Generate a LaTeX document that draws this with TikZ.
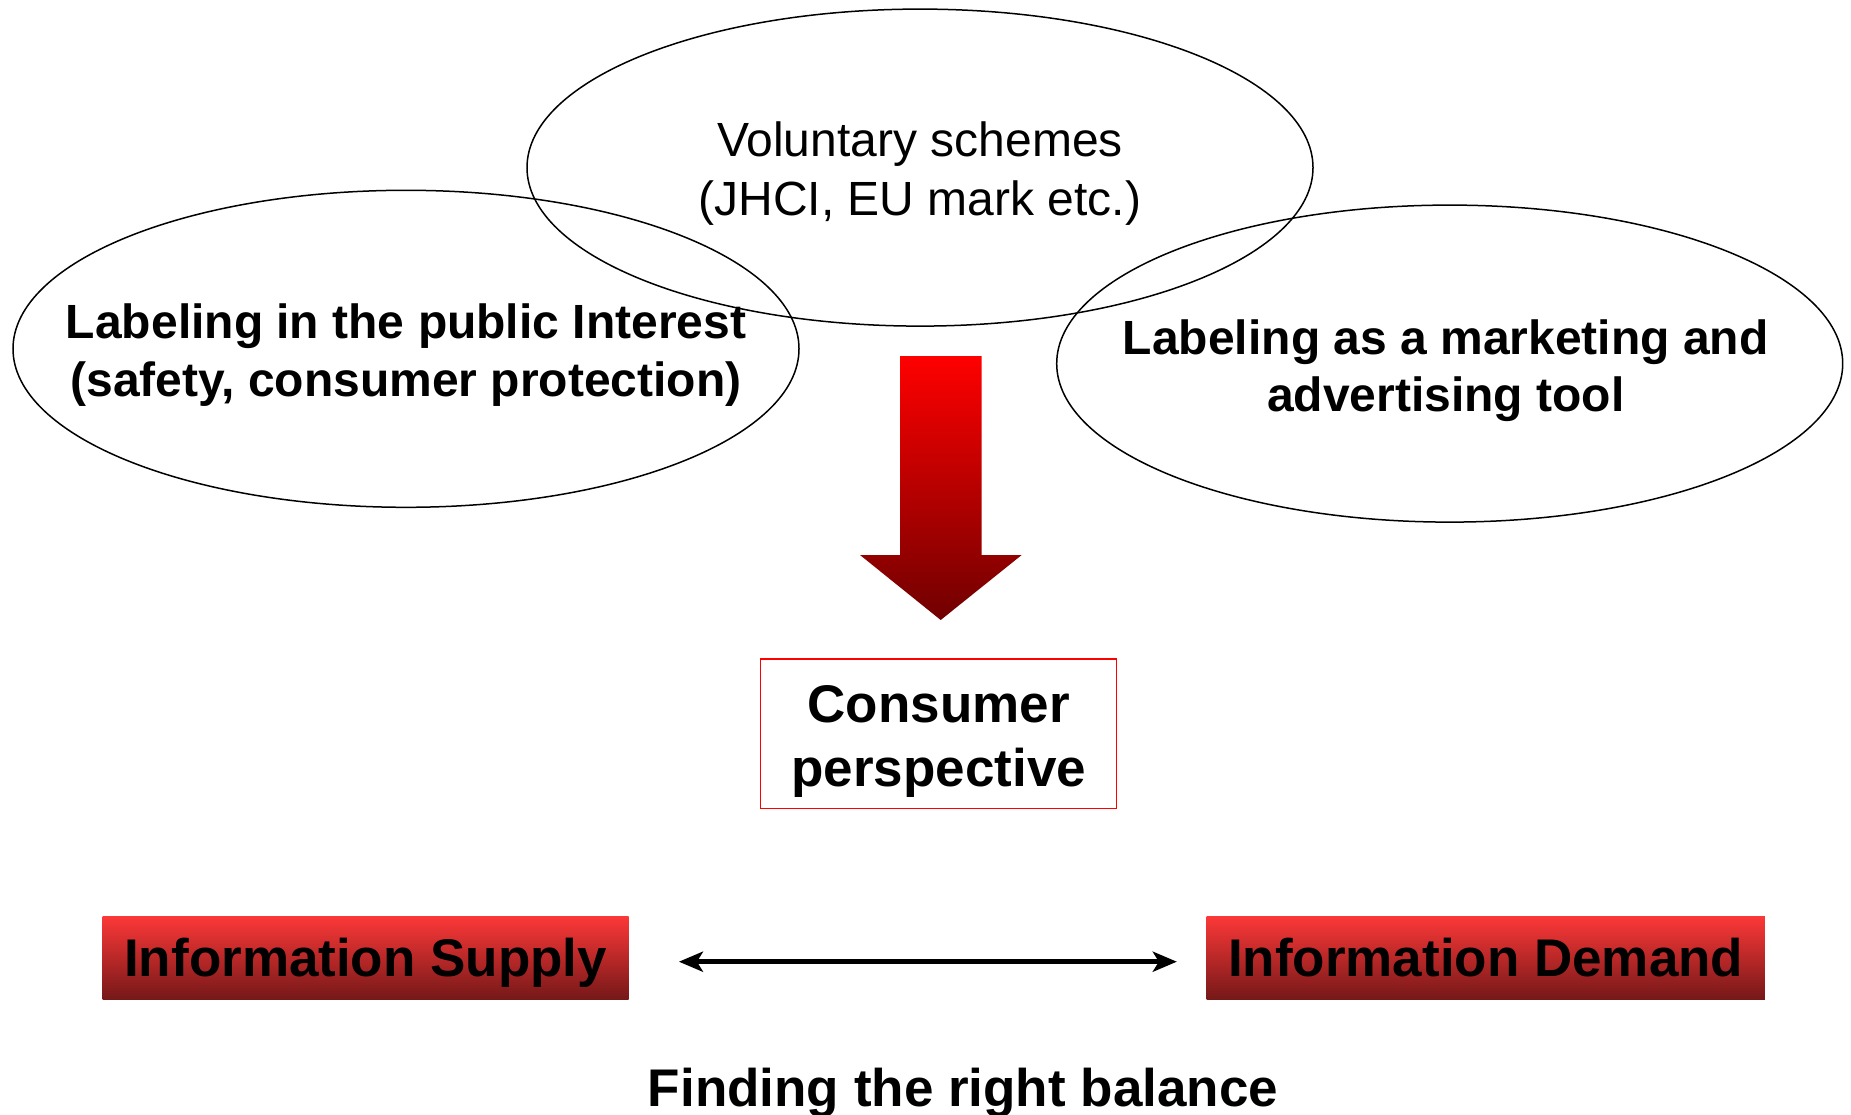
\documentclass[tikz,border=0pt]{standalone}
\usepackage{fontspec}
\setmainfont{Liberation Sans}
\usetikzlibrary{shapes.geometric,arrows.meta}
\definecolor{arrowdark}{RGB}{112,0,0}
\definecolor{boxtop}{RGB}{252,56,56}
\definecolor{boxbottom}{RGB}{118,24,24}
\begin{document}
\begin{tikzpicture}[x=1pt,y=-1pt,
  oval/.style={draw=black,line width=1.5pt,ellipse,minimum width=786pt,
    minimum height=317pt,inner sep=0pt},
  ovaltext/.style={inner sep=0pt,align=center},
  infobox/.style={rectangle,inner sep=0pt,minimum height=83.3pt,
    text depth=0pt,top color=boxtop,bottom color=boxbottom,
    font=\fontsize{53}{63}\selectfont\bfseries},
  >={Stealth[length=24pt,width=20pt,inset=6pt]}]
\useasboundingbox (0,0) rectangle (1851,1115);

% the three overlapping fields of labeling
\node[oval] (vol) at (920,167.6) {};
\node[oval] (pub) at (406,348.8) {};
\node[oval] (mkt) at (1449.7,363.6) {};

\node[ovaltext,font=\fontsize{48}{59}\selectfont] (voltext)
  at ([yshift=-6pt]vol.center) {Voluntary schemes\\(JHCI, EU mark etc.)};
\node[ovaltext,font=\fontsize{48}{58}\selectfont\bfseries] (pubtext)
  at ([yshift=-6pt]pub.center) {Labeling in the public Interest\\(safety, consumer protection)};
\node[ovaltext,font=\fontsize{48}{57}\selectfont\bfseries] (mkttext)
  at ([xshift=-4pt,yshift=-7pt]mkt.center) {Labeling as a marketing and\\advertising tool};

% block arrow pointing down to the consumer
\path[top color=red,bottom color=arrowdark]
  (900,356) -- (981.7,356) -- (981.7,555) -- (1021.7,555)
  -- (940.7,620) -- (860,555) -- (900,555) -- cycle;

\node[draw=red,line width=1.5pt,minimum width=356pt,minimum height=149.3pt,
  inner sep=0pt] (cons) at (938.7,733.7) {};
\node[ovaltext,font=\fontsize{53}{63.7}\selectfont\bfseries] (constext)
  at ([yshift=-8pt]cons.center) {Consumer\\perspective};

% supply versus demand
\node[infobox,minimum width=526pt] (sup) at (365.7,957.7) {Information Supply};
\node[infobox,minimum width=558.3pt] (dem) at (1485.7,957.7) {Information Demand};
\draw[line width=4.5pt,<->,shorten <=50pt,shorten >=29.5pt]
  ([yshift=-4pt]sup.east) -- ([yshift=-4pt]dem.west);

\node[anchor=base,font=\fontsize{53}{63}\selectfont\bfseries] (bal)
  at (963,1106.7) {Finding the right balance};
\end{tikzpicture}
\end{document}
